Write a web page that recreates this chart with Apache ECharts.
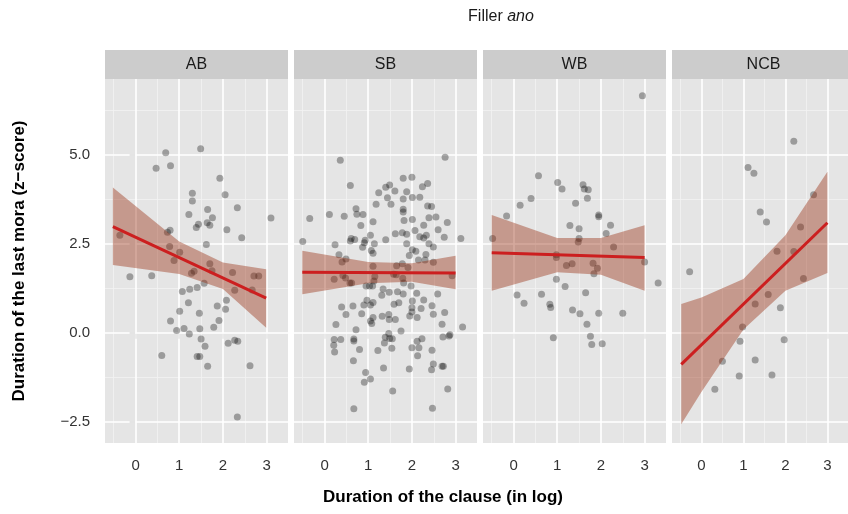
<!DOCTYPE html>
<html>
<head>
<meta charset="utf-8">
<script src="https://cdn.jsdelivr.net/npm/echarts@6/dist/echarts.min.js"></script>
<style>
html,body{margin:0;padding:0;background:#fff}
#main{width:848px;height:514px}
</style>
</head>
<body>
<div id="main"></div>
<script>
// 面板名称
var panelNames = ['AB', 'SB', 'WB', 'NCB'];

// 各面板散点 [x, y]
var abPoints = [[0.69,5.06],[1.49,5.17],[0.47,4.62],[0.80,4.69],[1.93,4.34],[1.30,3.92],[2.05,3.88],[1.30,3.70],[2.33,3.51],[1.65,3.46],[1.22,3.32],[1.76,3.23],[3.10,3.22],[1.44,3.05],[1.39,2.96],[1.64,3.09],[1.70,3.02],[2.09,2.89],[2.43,2.67],[0.79,2.88],[0.73,2.82],[-0.36,2.74],[1.62,2.48],[0.78,2.42],[1.01,2.26],[0.88,2.03],[1.70,1.94],
	[1.28,1.67],[1.34,1.73],[1.75,1.74],[2.22,1.69],[2.71,1.59],[2.82,1.59],[-0.13,1.57],[0.37,1.60],[1.57,1.39],[2.27,1.19],[2.67,1.20],[1.07,1.16],[1.24,1.22],[1.41,1.27],[2.08,0.91],[1.21,0.84],[1.87,0.75],[2.06,0.66],[1.01,0.60],[1.46,0.55],[0.80,0.33],[1.91,0.34],[1.79,0.15],[1.11,0.12],[0.94,0.06],[1.47,0.11],[1.23,-0.04],[1.50,-0.18],[2.12,-0.30],[2.27,-0.21],[2.34,-0.24],[1.59,-0.38],[0.60,-0.64],[1.41,-0.67],[1.47,-0.67],[1.65,-0.94],[2.62,-0.93],[2.33,-2.37]];
var sbPoints = [[0.36,4.85],[2.76,4.93],[0.59,4.14],[1.80,4.34],[2.00,4.37],[1.40,4.09],[1.49,4.15],[1.24,3.93],[1.61,3.98],[1.88,3.96],[2.24,4.10],[2.36,4.19],[1.44,3.79],[1.80,3.76],[2.01,3.80],[2.18,3.81],[1.18,3.61],[1.52,3.61],[2.36,3.56],[2.45,3.55],[0.72,3.48],[1.80,3.47],[1.80,3.39],[0.74,3.33],[0.88,3.32],[0.11,3.32],[0.45,3.27],[-0.34,3.21],[2.39,3.23],[2.55,3.25],[2.01,3.18],[1.82,3.15],[1.11,3.12],[2.81,3.10],[0.83,3.01],[2.27,3.02],[2.60,2.89],[2.07,2.87],[1.62,2.78],[1.78,2.81],[1.88,2.77],[1.05,2.74],[2.18,2.70],[2.33,2.74],[2.27,2.66],[2.74,2.68],[3.12,2.65],[0.61,2.65],[0.59,2.58],[0.69,2.62],[0.93,2.60],[0.91,2.53],[1.40,2.61],[-0.50,2.56],[0.24,2.47],[1.14,2.50],[1.88,2.50],[2.39,2.50],[2.49,2.41],[0.87,2.40],[1.07,2.31],[1.11,2.23],[2.01,2.33],[2.09,2.29],[0.33,2.19],[0.49,2.07],[0.40,1.99],[1.94,2.17],[2.32,2.20],[2.15,2.04],[2.30,2.04],[2.49,1.98],[1.78,1.94],[1.11,1.87],[1.65,1.88],[1.91,1.83],
	[0.22,1.50],[0.42,1.61],[0.48,1.54],[0.58,1.40],[0.62,1.40],[1.15,1.58],[1.13,1.45],[0.95,1.31],[1.03,1.31],[1.10,1.31],[1.58,1.64],[1.79,1.53],[1.81,1.40],[1.98,1.31],[1.64,1.63],[2.92,1.60],[1.34,1.23],[1.48,1.14],[1.67,1.15],[1.80,1.09],[1.31,1.05],[2.11,1.11],[2.59,1.09],[2.27,0.92],[2.01,0.89],[0.97,0.91],[1.11,0.85],[1.05,0.78],[0.90,0.78],[1.59,0.80],[1.70,0.84],[0.39,0.72],[0.65,0.75],[2.00,0.70],[2.00,0.58],[2.21,0.68],[2.46,0.76],[0.49,0.51],[0.85,0.53],[1.32,0.46],[1.47,0.51],[1.48,0.37],[1.62,0.37],[1.95,0.47],[2.12,0.43],[2.49,0.52],[2.75,0.57],[1.11,0.43],[1.05,0.33],[1.08,0.26],[0.26,0.23],[2.69,0.24],[3.16,0.16],[0.72,0.08],[1.75,0.05],[1.47,-0.02],[1.39,-0.13],[1.49,-0.16],[1.55,-0.17],[0.22,-0.19],[0.37,-0.19],[0.67,-0.23],[0.67,-0.18],[1.37,-0.29],[2.12,-0.24],[2.23,-0.17],[2.71,-0.12],[2.87,-0.06],[2.85,-0.09],[0.21,-0.35],[0.23,-0.54],[0.80,-0.47],[1.22,-0.50],[1.54,-0.44],[2.00,-0.42],[2.16,-0.42],[2.46,-0.49],[2.13,-0.65],[0.66,-0.79],[2.49,-0.88],[2.69,-0.94],[2.72,-0.94],[2.45,-1.04],[1.35,-0.99],[1.94,-1.02],[0.94,-1.12],[0.91,-1.39],[1.05,-1.30],[1.56,-1.64],[2.82,-1.58],[0.67,-2.14],[2.47,-2.12]];
var wbPoints = [[2.95,6.66],[0.57,4.41],[1.01,4.22],[1.11,4.04],[1.59,4.16],[1.62,4.04],[1.71,4.02],[0.40,3.77],[1.69,3.78],[0.15,3.58],[1.42,3.64],[-0.16,3.28],[1.95,3.31],[1.95,3.26],[1.29,3.01],[1.50,2.92],[2.22,3.02],[2.12,2.79],[-0.48,2.65],[1.50,2.65],[1.48,2.55],[2.29,2.41],[0.98,2.19],[0.98,2.11],[3.00,1.99],[1.21,1.89],[1.34,1.94],[1.82,1.95],[1.92,1.81],[1.84,1.66],[3.31,1.40],[0.98,1.50],[1.18,1.30],[1.65,1.12],[0.08,1.06],[0.64,1.08],[0.24,0.83],[0.83,0.80],[0.85,0.71],[1.35,0.64],[1.52,0.53],[1.95,0.55],[2.50,0.55],[1.68,0.24],[0.91,-0.14],[1.76,-0.10],[1.79,-0.33],[2.03,-0.31]];
var ncbPoints = [[2.20,5.38],[1.11,4.64],[1.25,4.48],[2.67,3.88],[1.40,3.39],[1.55,3.11],[2.36,2.97],[1.80,2.29],[2.20,2.28],[-0.28,1.71],[2.43,1.52],[1.59,1.07],[1.28,0.81],[1.88,0.70],[0.98,0.16],[0.92,-0.24],[1.97,-0.20],[0.50,-0.80],[1.28,-0.77],[0.90,-1.22],[1.68,-1.19],[0.32,-1.59]];

// 回归线端点 [x, y]
var abFit = [[-0.52,2.98],[2.99,0.97]];
var sbFit = [[-0.51,1.70],[3.00,1.68]];
var wbFit = [[-0.50,2.25],[3.00,2.11]];
var ncbFit = [[-0.48,-0.89],[3.00,3.09]];

// 置信带 [x, 下界, 上界]
var abBand = [[-0.52,1.90,4.08],[1,1.65,2.56],[2,1.23,1.97],[2.99,0.14,1.78]];
var sbBand = [[-0.51,1.08,2.30],[1,1.39,1.99],[2,1.43,1.95],[3.00,1.22,2.16]];
var wbBand = [[-0.50,1.18,3.31],[1,1.70,2.66],[2,1.63,2.66],[3.00,1.18,3.02]];
var ncbBand = [[-0.48,-2.57,0.81],[0,-1.67,0.99],[1,0.09,1.51],[2,1.18,2.74],[3.00,1.68,4.52]];

// 刻度
var xTicks = [0, 1, 2, 3];
var xMinor = [-0.5, 0.5, 1.5, 2.5];
var yTicks = [-2.5, 0, 2.5, 5];
var yMinor = [-1.25, 1.25, 3.75, 6.25];

var allPoints = [abPoints, sbPoints, wbPoints, ncbPoints];
var allFits = [abFit, sbFit, wbFit, ncbFit];
var allBands = [abBand, sbBand, wbBand, ncbBand];

var fontFamily = '"Liberation Sans", Arial, Helvetica, sans-serif';
var panelLeft = [105, 294, 483, 672];
var panelWidth = 183;
var panelTop = 79;
var panelHeight = 364;

var chart = echarts.init(document.getElementById('main'));

var grids = [], xAxes = [], yAxes = [], series = [], graphics = [];

for (var i = 0; i < 4; i++) {
	grids.push({
		left: panelLeft[i], top: panelTop, width: panelWidth, height: panelHeight,
		show: true, backgroundColor: '#e5e5e5', borderWidth: 0
	});
	xAxes.push({
		type: 'value', gridIndex: i, min: -0.7, max: 3.49,
		axisLine: {show: false},
		splitLine: {show: false},
		axisTick: {show: true, length: 6, customValues: xTicks, lineStyle: {color: '#7a7a7a', width: 1.5}},
		axisLabel: {show: true, customValues: xTicks, margin: 15, fontSize: 15, color: '#333', fontFamily: fontFamily}
	});
	yAxes.push({
		type: 'value', gridIndex: i, min: -3.1, max: 7.13,
		axisLine: {show: false},
		splitLine: {show: false},
		axisTick: {show: i == 0, length: 6, customValues: yTicks, lineStyle: {color: '#7a7a7a', width: 1.5}},
		axisLabel: {
			show: i == 0, customValues: yTicks, margin: 15, fontSize: 15, color: '#333', fontFamily: fontFamily,
			formatter: function (v) {
				return v < 0 ? '\u2212' + Math.abs(v).toFixed(1) : v.toFixed(1);
			}
		}
	});

	// 网格线
	var gridLines = [];
	xMinor.forEach(function (v) { gridLines.push({xAxis: v, lineStyle: {color: '#f2f2f2', width: 0.8, type: 'solid'}}); });
	yMinor.forEach(function (v) { gridLines.push({yAxis: v, lineStyle: {color: '#f2f2f2', width: 0.8, type: 'solid'}}); });
	xTicks.forEach(function (v) { gridLines.push({xAxis: v, lineStyle: {color: '#ffffff', width: 1.6, type: 'solid'}}); });
	yTicks.forEach(function (v) { gridLines.push({yAxis: v, lineStyle: {color: '#ffffff', width: 1.6, type: 'solid'}}); });
	series.push({
		type: 'line', xAxisIndex: i, yAxisIndex: i, z: 1, silent: true,
		data: [[0, 0]], symbol: 'none', lineStyle: {opacity: 0},
		markLine: {z: 1, silent: true, symbol: ['none', 'none'], label: {show: false}, animation: false, emphasis: {disabled: true}, data: gridLines}
	});

	// 散点
	series.push({
		type: 'scatter', xAxisIndex: i, yAxisIndex: i, z: 6, silent: true,
		data: allPoints[i], symbolSize: 7,
		itemStyle: {color: 'rgba(0,0,0,0.4)'}
	});

	// 置信带
	(function (band) {
		series.push({
			type: 'custom', xAxisIndex: i, yAxisIndex: i, z: 7, silent: true,
			data: band,
			renderItem: function (params, api) {
				if (params.dataIndex !== 0) return null;
				var pts = [];
				for (var k = 0; k < band.length; k++) pts.push(api.coord([band[k][0], band[k][2]]));
				for (var k = band.length - 1; k >= 0; k--) pts.push(api.coord([band[k][0], band[k][1]]));
				return {type: 'polygon', shape: {points: pts}, style: {fill: 'rgba(150,40,10,0.4)'}};
			}
		});
	})(allBands[i]);

	// 回归线
	series.push({
		type: 'line', xAxisIndex: i, yAxisIndex: i, z: 8, silent: true,
		data: allFits[i], symbol: 'none',
		lineStyle: {color: '#cc1f1f', width: 3}
	});

	// 分面标题条
	graphics.push({
		type: 'rect', left: panelLeft[i], top: 50, z: 10,
		shape: {width: panelWidth, height: 29},
		style: {fill: '#cccccc'}
	});
	graphics.push({
		type: 'text', x: panelLeft[i] + panelWidth / 2, y: 65, z: 11,
		style: {text: panelNames[i], align: 'center', verticalAlign: 'middle', fill: '#1a1a1a', font: '16px ' + fontFamily}
	});
}

// 总标题与坐标轴标题
graphics.push({
	type: 'text', x: 501, y: 17, z: 11,
	style: {
		text: 'Filler {i|ano}', align: 'center', verticalAlign: 'middle', fill: '#1a1a1a', font: '16px ' + fontFamily,
		rich: {i: {fontStyle: 'italic', fontSize: 16, fontFamily: fontFamily, fill: '#1a1a1a'}}
	}
});
graphics.push({
	type: 'text', x: 443, y: 497, z: 11,
	style: {text: 'Duration of the clause (in log)', align: 'center', verticalAlign: 'middle', fill: '#000', font: 'bold 17px ' + fontFamily}
});
graphics.push({
	type: 'text', x: 19, y: 261, z: 11, rotation: Math.PI / 2,
	style: {text: 'Duration of the last mora (z\u2212score)', align: 'center', verticalAlign: 'middle', fill: '#000', font: 'bold 17px ' + fontFamily}
});

chart.setOption({
	animation: false,
	grid: grids,
	xAxis: xAxes,
	yAxis: yAxes,
	series: series,
	graphic: graphics
});
</script>
</body>
</html>
